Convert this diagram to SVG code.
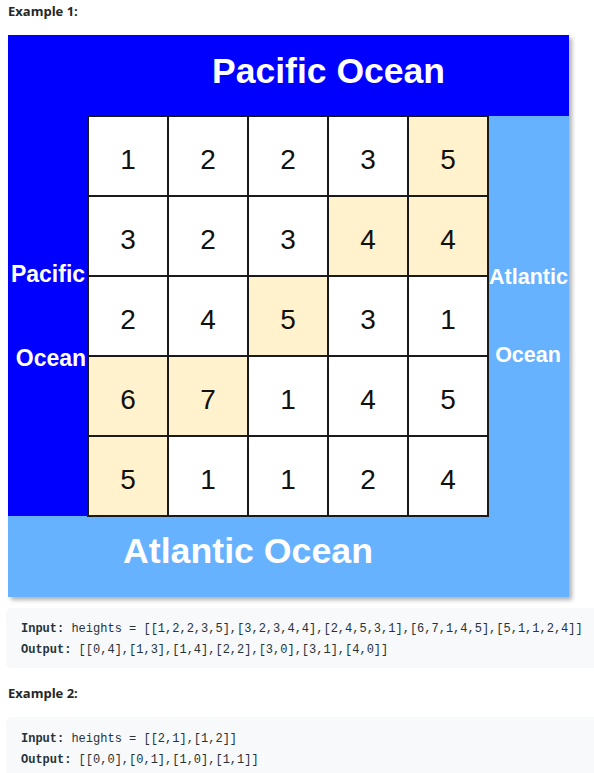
<svg xmlns="http://www.w3.org/2000/svg" width="594" height="773" viewBox="0 0 594 773">
<style>
.h{font-family:"Open Sans","Noto Sans","Liberation Sans",sans-serif;font-weight:bold;font-size:13px;fill:#262626}
.code{font-family:"Liberation Mono","DejaVu Sans Mono",monospace;font-size:12px;fill:#263238}
.code .b{font-weight:bold}
.ocean{font-family:"Liberation Sans",Arial,sans-serif;font-weight:bold;fill:#ffffff;text-anchor:middle}
.cell rect{fill:#ffffff;stroke:#1a1a1a;stroke-width:2}
.cell.hl rect{fill:#FFF2CC}
.cell text{font-family:"Liberation Sans",Arial,sans-serif;font-size:28px;fill:#111111;text-anchor:middle}
.blk{fill:#f7f9fa}
</style>
<defs>
<filter id="sh" x="-5%" y="-5%" width="115%" height="115%">
<feDropShadow dx="3" dy="3" stdDeviation="2" flood-color="#000" flood-opacity="0.3"/>
</filter>
</defs>
<rect width="594" height="773" fill="#ffffff"/>
<text class="h" x="8" y="16">Example 1:</text>

<g id="oceans">
<rect id="atlantic" x="8" y="35" width="561" height="562" fill="#66B2FF" filter="url(#sh)"/>
<path id="pacific" d="M8 35H569V116H88V516H8Z" fill="#0000FF"/>
<text class="ocean" x="328.5" y="83" font-size="35.5">Pacific Ocean</text>
<text class="ocean" x="248" y="563" font-size="35.7">Atlantic Ocean</text>
<text class="ocean" x="48" y="282" font-size="23">Pacific</text>
<text class="ocean" x="51" y="366" font-size="23">Ocean</text>
<text class="ocean" x="528.5" y="284" font-size="21.5">Atlantic</text>
<text class="ocean" x="528" y="362" font-size="21.5">Ocean</text>
</g>

<g id="grid">
<g id="c00" class="cell"><rect x="88" y="116" width="80" height="80"/><text x="128" y="169">1</text></g>
<g id="c01" class="cell"><rect x="168" y="116" width="80" height="80"/><text x="208" y="169">2</text></g>
<g id="c02" class="cell"><rect x="248" y="116" width="80" height="80"/><text x="288" y="169">2</text></g>
<g id="c03" class="cell"><rect x="328" y="116" width="80" height="80"/><text x="368" y="169">3</text></g>
<g id="c04" class="cell hl"><rect x="408" y="116" width="80" height="80"/><text x="448" y="169">5</text></g>

<g id="c10" class="cell"><rect x="88" y="196" width="80" height="80"/><text x="128" y="249">3</text></g>
<g id="c11" class="cell"><rect x="168" y="196" width="80" height="80"/><text x="208" y="249">2</text></g>
<g id="c12" class="cell"><rect x="248" y="196" width="80" height="80"/><text x="288" y="249">3</text></g>
<g id="c13" class="cell hl"><rect x="328" y="196" width="80" height="80"/><text x="368" y="249">4</text></g>
<g id="c14" class="cell hl"><rect x="408" y="196" width="80" height="80"/><text x="448" y="249">4</text></g>

<g id="c20" class="cell"><rect x="88" y="276" width="80" height="80"/><text x="128" y="329">2</text></g>
<g id="c21" class="cell"><rect x="168" y="276" width="80" height="80"/><text x="208" y="329">4</text></g>
<g id="c22" class="cell hl"><rect x="248" y="276" width="80" height="80"/><text x="288" y="329">5</text></g>
<g id="c23" class="cell"><rect x="328" y="276" width="80" height="80"/><text x="368" y="329">3</text></g>
<g id="c24" class="cell"><rect x="408" y="276" width="80" height="80"/><text x="448" y="329">1</text></g>

<g id="c30" class="cell hl"><rect x="88" y="356" width="80" height="80"/><text x="128" y="409">6</text></g>
<g id="c31" class="cell hl"><rect x="168" y="356" width="80" height="80"/><text x="208" y="409">7</text></g>
<g id="c32" class="cell"><rect x="248" y="356" width="80" height="80"/><text x="288" y="409">1</text></g>
<g id="c33" class="cell"><rect x="328" y="356" width="80" height="80"/><text x="368" y="409">4</text></g>
<g id="c34" class="cell"><rect x="408" y="356" width="80" height="80"/><text x="448" y="409">5</text></g>

<g id="c40" class="cell hl"><rect x="88" y="436" width="80" height="80"/><text x="128" y="489">5</text></g>
<g id="c41" class="cell"><rect x="168" y="436" width="80" height="80"/><text x="208" y="489">1</text></g>
<g id="c42" class="cell"><rect x="248" y="436" width="80" height="80"/><text x="288" y="489">1</text></g>
<g id="c43" class="cell"><rect x="328" y="436" width="80" height="80"/><text x="368" y="489">2</text></g>
<g id="c44" class="cell"><rect x="408" y="436" width="80" height="80"/><text x="448" y="489">4</text></g>
</g>

<g id="example1-code">
<rect class="blk" x="6" y="608" width="600" height="60" rx="5"/>
<text class="code" x="21" y="632"><tspan class="b">Input:</tspan> heights = [[1,2,2,3,5],[3,2,3,4,4],[2,4,5,3,1],[6,7,1,4,5],[5,1,1,2,4]]</text>
<text class="code" x="21" y="653"><tspan class="b">Output:</tspan> [[0,4],[1,3],[1,4],[2,2],[3,0],[3,1],[4,0]]</text>
</g>

<text class="h" x="8" y="698">Example 2:</text>

<g id="example2-code">
<rect class="blk" x="6" y="717" width="600" height="66" rx="5"/>
<text class="code" x="21" y="742"><tspan class="b">Input:</tspan> heights = [[2,1],[1,2]]</text>
<text class="code" x="21" y="763"><tspan class="b">Output:</tspan> [[0,0],[0,1],[1,0],[1,1]]</text>
</g>
</svg>
